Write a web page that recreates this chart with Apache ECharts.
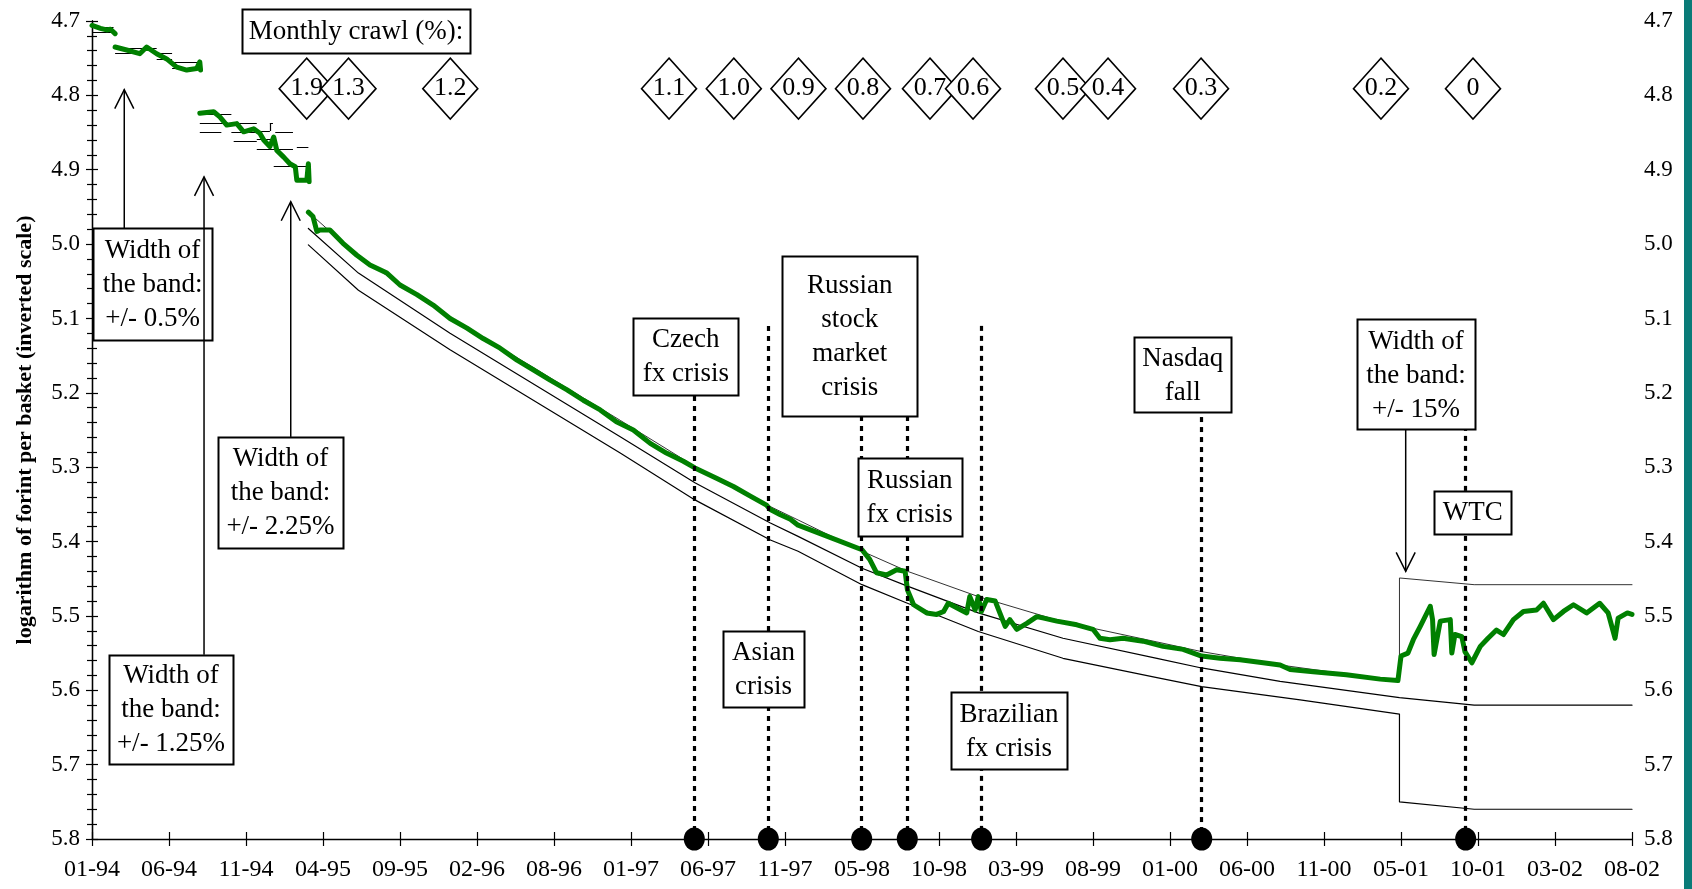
<!DOCTYPE html>
<html><head><meta charset="utf-8">
<script src="https://cdn.jsdelivr.net/npm/echarts@6/dist/echarts.min.js"></script>
<style>html,body{margin:0;padding:0;background:#fff;}#chart{width:1692px;height:889px;}</style>
</head><body><div id="chart"></div>
<script>
// x positions are in units of tick intervals (0 = 01-94 tick, 20 = 08-02 tick)
const tickLabels = ['01-94','06-94','11-94','04-95','09-95','02-96','08-96','01-97','06-97','11-97','05-98','10-98','03-99','08-99','01-00','06-00','11-00','05-01','10-01','03-02','08-02'];

const rate1994a = [[0.00,4.706],[0.11,4.710],[0.19,4.712],[0.24,4.711],[0.30,4.717]];
const rate1994b = [[0.30,4.735],[0.45,4.739],[0.62,4.744],[0.71,4.735],[0.84,4.744],[0.97,4.751],[1.10,4.762],[1.23,4.766],[1.36,4.764],[1.40,4.755],[1.41,4.766]];
const rate1995a = [[1.40,4.824],[1.58,4.822],[1.66,4.829],[1.75,4.840],[1.88,4.838],[1.97,4.849],[2.10,4.845],[2.18,4.851],[2.23,4.860],[2.31,4.869],[2.36,4.856],[2.40,4.874],[2.49,4.883],[2.57,4.892],[2.64,4.896],[2.66,4.914],[2.79,4.914],[2.81,4.892],[2.82,4.916]];
const rateMain = [
 [2.81,4.957],[2.87,4.963],[2.92,4.983],[2.96,4.981],[3.09,4.981],[3.26,4.999],[3.44,5.015],[3.61,5.028],[3.83,5.039],
 [4.00,5.055],[4.22,5.068],[4.43,5.082],[4.65,5.100],[4.87,5.113],[5.08,5.127],[5.30,5.140],[5.52,5.156],[5.73,5.169],
 [5.95,5.183],[6.17,5.196],[6.38,5.210],[6.60,5.223],[6.81,5.239],[7.03,5.250],[7.25,5.268],[7.46,5.281],[7.68,5.292],
 [7.83,5.301],[8.11,5.315],[8.33,5.326],[8.55,5.339],[8.76,5.351],[8.81,5.357],[8.94,5.364],[9.07,5.370],[9.17,5.378],
 [9.50,5.391],[10.00,5.411],[10.10,5.424],[10.19,5.442],[10.32,5.445],[10.45,5.438],[10.56,5.440],[10.59,5.465],
 [10.67,5.485],[10.84,5.496],[10.97,5.498],[11.06,5.494],[11.12,5.483],[11.23,5.489],[11.36,5.496],[11.40,5.474],
 [11.47,5.492],[11.51,5.474],[11.55,5.494],[11.62,5.478],[11.73,5.480],[11.79,5.496],[11.86,5.514],[11.92,5.505],
 [12.01,5.518],[12.14,5.510],[12.27,5.501],[12.36,5.503],[12.53,5.507],[12.79,5.512],[13.00,5.518],[13.09,5.530],
 [13.22,5.532],[13.39,5.530],[13.65,5.534],[13.91,5.541],[14.17,5.545],[14.41,5.554],[14.65,5.557],[14.91,5.559],
 [15.21,5.563],[15.43,5.566],[15.56,5.572],[15.86,5.575],[16.29,5.579],[16.73,5.585],[16.96,5.587],[17.00,5.554],
 [17.09,5.550],[17.16,5.532],[17.25,5.514],[17.38,5.487],[17.41,5.505],[17.43,5.552],[17.51,5.507],[17.64,5.505],
 [17.66,5.550],[17.70,5.525],[17.79,5.528],[17.83,5.548],[17.92,5.563],[18.03,5.541],[18.13,5.530],[18.24,5.519],
 [18.33,5.525],[18.46,5.505],[18.59,5.494],[18.76,5.492],[18.85,5.483],[18.98,5.505],[19.11,5.494],[19.24,5.485],
 [19.41,5.496],[19.58,5.483],[19.69,5.496],[19.78,5.530],[19.82,5.503],[19.94,5.496],[20.00,5.498]
];

const parityLine = [[2.81,4.979],[3.46,5.039],[4.65,5.120],[6.86,5.259],[7.83,5.321],[8.81,5.375],[9.17,5.393],[10.00,5.436],[10.59,5.460],[11.51,5.496],[12.61,5.530],[13.83,5.557],[14.41,5.570],[15.43,5.588],[16.98,5.610],[17.95,5.620],[20.00,5.620]];
const upperEdge = [[2.81,4.957],[3.46,5.017],[4.65,5.098],[6.86,5.237],[7.83,5.299],[8.81,5.353],[9.17,5.371],[10.00,5.413],[10.59,5.440],[11.51,5.474],[12.61,5.508],[13.83,5.535],[14.41,5.548],[15.43,5.566],[16.98,5.588],[16.98,5.449],[17.95,5.458],[20.00,5.458]];
const lowerEdge = [[2.81,5.001],[3.46,5.062],[4.65,5.142],[6.86,5.281],[7.83,5.344],[8.81,5.398],[9.17,5.413],[10.00,5.458],[10.59,5.483],[11.51,5.521],[12.61,5.557],[13.83,5.583],[14.41,5.595],[15.69,5.613],[16.98,5.632],[16.98,5.750],[17.95,5.760],[20.00,5.760]];

// early band edges (step devaluations): [[u0,v0],[u1,v1]]
const bandSteps = [
 [[0.01,4.708],[0.28,4.708]],[[0.01,4.715],[0.30,4.715]],
 [[0.30,4.737],[0.84,4.737]],[[0.30,4.744],[0.63,4.744]],[[0.84,4.744],[1.04,4.744]],[[0.84,4.751],[1.04,4.751]],
 [[1.04,4.756],[1.41,4.756]],[[1.04,4.763],[1.41,4.763]],
 [[1.40,4.825],[1.81,4.825]],[[1.40,4.838],[2.14,4.838]],[[1.40,4.850],[1.68,4.850]],[[1.81,4.849],[2.14,4.849]],
 [[2.18,4.848],[2.31,4.848]],[[2.31,4.848],[2.31,4.837]],[[2.31,4.837],[2.35,4.837]],[[2.38,4.850],[2.61,4.850]],
 [[1.84,4.862],[2.14,4.862]],[[2.14,4.859],[2.36,4.859]],[[2.14,4.873],[2.61,4.873]],[[2.66,4.870],[2.81,4.870]],
 [[2.36,4.895],[2.81,4.895]],[[2.64,4.914],[2.81,4.914]]
];

const eventU = [7.822, 8.783, 9.996, 10.588, 11.554, 14.412, 17.84];
const eventTop = [5.11, 5.11, 5.11, 5.11, 5.11, 5.125, 5.11];

const crawlU = [2.788, 3.331, 4.653, 7.494, 8.335, 9.175, 10.013, 10.883, 11.442, 12.61, 13.195, 14.403, 16.74, 17.935];
const crawlLabels = ['1.9','1.3','1.2','1.1','1.0','0.9','0.8','0.7','0.6','0.5','0.4','0.3','0.2','0'];
const crawlRow = 4.791;

const SERIF = '"Liberation Serif","Times New Roman",serif';

const boxes = [
 {text:'Width of\nthe band:\n+/- 0.5%', u:0.786, v:5.0537, w:119, h:112},
 {text:'Width of\nthe band:\n+/- 1.25%', u:1.026, v:5.6253, w:124, h:109},
 {text:'Width of\nthe band:\n+/- 2.25%', u:2.448, v:5.3338, w:125, h:111},
 {text:'Monthly crawl (%):', u:3.429, v:4.7138, w:228, h:44},
 {text:'Czech\nfx crisis', u:7.712, v:5.1508, w:105, h:77},
 {text:'Asian\ncrisis', u:8.721, v:5.5709, w:81, h:76},
 {text:'Russian\nstock\nmarket\ncrisis', u:9.840, v:5.1236, w:135, h:160},
 {text:'Russian\nfx crisis', u:10.619, v:5.3405, w:104, h:78},
 {text:'Brazilian\nfx crisis', u:11.909, v:5.6542, w:116, h:77},
 {text:'Nasdaq\nfall', u:14.165, v:5.1753, w:97, h:75},
 {text:'Width of\nthe band:\n+/- 15%', u:17.195, v:5.1753, w:118, h:110},
 {text:'WTC', u:17.932, v:5.3607, w:77, h:43}
];
const arrows = [
 {u:0.419, from:4.9786, to:4.7922},
 {u:1.455, from:5.5522, to:4.9096},
 {u:2.581, from:5.2593, to:4.9431},
 {u:17.061, from:5.2492, to:5.4402}
];

const chart = echarts.init(document.getElementById('chart'));

function lineSeries(data, color, width, z) {
  return {type:'line', data, showSymbol:false, symbol:'none', silent:true, z,
    lineStyle:{color, width, join:'round', cap:'round'}, animation:false};
}

const yAxisCommon = {
  type:'value', inverse:true, min:4.7, max:5.8, interval:0.1,
  axisLine:{show:true, lineStyle:{color:'#000', width:1.3}},
  axisTick:{show:true, length:6, lineStyle:{color:'#000', width:1.2}},
  minorTick:{show:true, splitNumber:5, length:5, lineStyle:{color:'#000', width:1.2}},
  splitLine:{show:false}, minorSplitLine:{show:false},
  axisLabel:{fontFamily:SERIF, fontSize:23, color:'#000', margin:12, formatter:v=>v.toFixed(1)}
};

const option = {
  backgroundColor:'#fff',
  animation:false,
  grid:{left:92, right:60, top:21, bottom:50, containLabel:false},
  xAxis:[
    {type:'value', min:0, max:20, interval:1, position:'bottom',
     axisLine:{show:true, onZero:false, lineStyle:{color:'#000', width:1.3}},
     axisTick:{show:true, length:7, lineStyle:{color:'#000', width:1.2}},
     splitLine:{show:false},
     axisLabel:{fontFamily:SERIF, fontSize:24, color:'#000', margin:19, formatter:v=>tickLabels[Math.round(v)] || ''}},
    {type:'value', min:0, max:20, interval:1, position:'bottom',
     axisLine:{show:false, onZero:false},
     axisTick:{show:true, inside:true, length:7, lineStyle:{color:'#000', width:1.2}},
     splitLine:{show:false}, axisLabel:{show:false}}
  ],
  yAxis:[
    Object.assign({}, yAxisCommon, {position:'left',
      name:'logarithm of forint per basket (inverted scale)', nameLocation:'middle', nameGap:56, nameRotate:90,
      nameTextStyle:{fontFamily:SERIF, fontSize:22, fontWeight:'bold', color:'#000'}}),
    Object.assign({}, yAxisCommon, {position:'right'})
  ],
  graphic:[{type:'rect', right:0, top:0, shape:{width:8, height:889}, style:{fill:'#0a7b78'}, z:100}],
  series:[
    lineSeries(parityLine, '#000', 1.2, 2),
    lineSeries(lowerEdge, '#000', 1.2, 2),
    lineSeries(upperEdge, '#333', 1, 2),
    {type:'lines', coordinateSystem:'cartesian2d', z:2, silent:true, animation:false,
     data: bandSteps.map(s=>({coords:s})), lineStyle:{color:'#000', width:1.2, opacity:1}},
    lineSeries(rate1994a, '#008000', 5, 3),
    lineSeries(rate1994b, '#008000', 5, 3),
    lineSeries(rate1995a, '#008000', 5, 3),
    lineSeries(rateMain, '#008000', 5, 3),
    {type:'lines', coordinateSystem:'cartesian2d', z:4, silent:true, animation:false,
     data: eventU.map((u,i)=>({coords:[[u,eventTop[i]],[u,5.8]]})),
     lineStyle:{color:'#000', width:3.2, type:[5,5], opacity:1}},
    {type:'scatter', z:5, silent:true, animation:false, clip:false,
     data: eventU.map(u=>[u,5.8]), symbol:'circle', symbolSize:[21,23], itemStyle:{color:'#000', opacity:1}},
    {type:'custom', z:6, silent:true, animation:false, clip:false,
     data: boxes.map(b=>[b.u,b.v]),
     renderItem:(params, api)=>{
       const b = boxes[params.dataIndex];
       const p = api.coord([b.u, b.v]);
       return {type:'group', children:[
         {type:'rect', shape:{x:Math.round(p[0]-b.w/2)+0.5, y:Math.round(p[1]-b.h/2)+0.5, width:b.w, height:b.h},
          style:{fill:'#fff', stroke:'#000', lineWidth:2}},
         {type:'text', x:p[0], y:p[1]+1,
          style:{text:b.text, fill:'#000', fontFamily:SERIF, fontSize:27, lineHeight:34, align:'center', verticalAlign:'middle'}}
       ]};
     }},
    {type:'custom', z:6, silent:true, animation:false, clip:false,
     data: arrows.map(a=>[a.u,a.to]),
     renderItem:(params, api)=>{
       const a = arrows[params.dataIndex];
       const p0 = api.coord([a.u, a.from]);
       const p1 = api.coord([a.u, a.to]);
       const dir = p1[1] < p0[1] ? -1 : 1;
       const hl = 19, hw = 9.5;
       return {type:'group', children:[
         {type:'line', shape:{x1:p0[0], y1:p0[1], x2:p1[0], y2:p1[1]}, style:{stroke:'#000', lineWidth:1.5}},
         {type:'polyline', shape:{points:[[p1[0]-hw, p1[1]-dir*hl],[p1[0],p1[1]],[p1[0]+hw,p1[1]-dir*hl]]},
          style:{stroke:'#000', lineWidth:1.5, fill:null}}
       ]};
     }},
    {type:'scatter', z:7, silent:true, animation:false, clip:false,
     data: crawlU.map((u,i)=>({value:[u,crawlRow], name:crawlLabels[i]})),
     symbol:'diamond', symbolSize:[55,61],
     itemStyle:{color:'#fff', borderColor:'#000', borderWidth:1.6, opacity:1},
     label:{show:true, position:'inside', formatter:p=>p.name, fontFamily:SERIF, fontSize:26, color:'#000'}}
  ]
};
chart.setOption(option);
</script>
</body></html>
